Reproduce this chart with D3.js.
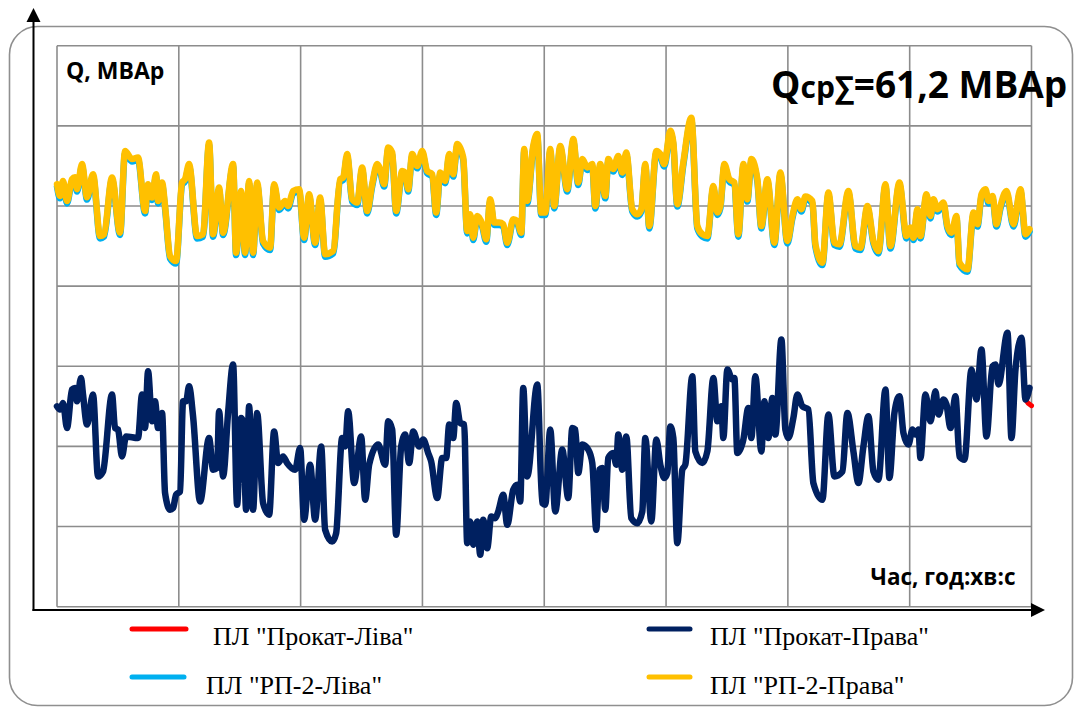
<!DOCTYPE html>
<html>
<head>
<meta charset="utf-8">
<title>Q, МВАр</title>
<script src="https://cdn.jsdelivr.net/npm/d3@7/dist/d3.min.js"></script>
<style>
  body { margin: 0; background: #fff; }
  svg { display: block; }
</style>
</head>
<body>
<svg id="chart" width="1077" height="708"></svg>
<script>
// time of each sample (relative units, 974 = end of record)
var tRP = [
  0, 3, 6, 10, 15, 18, 20, 25, 30, 36,
  43, 47, 55, 63, 68, 75, 81, 88, 91, 95,
  99, 101, 105, 108, 113, 119, 125, 128, 132, 140,
  146, 152, 156, 162, 166, 176, 179, 184, 188, 192,
  196, 200, 206, 213, 217, 222, 228, 231, 236, 242,
  247, 252, 258, 263, 268, 276, 283, 286, 290, 295,
  300, 305, 310, 315, 320, 323, 327, 331, 335, 339,
  345, 348, 351, 355, 360, 365, 370, 375, 379, 383,
  388, 392, 396, 400, 406, 410, 413, 416, 420, 425,
  429, 433, 437, 442, 446, 450, 456, 460, 464, 467,
  470, 476, 480, 484, 488, 493, 497, 503, 510, 516,
  521, 525, 530, 535, 538, 543, 548, 551, 556, 561,
  565, 569, 575, 580, 584, 588, 592, 599, 603, 607,
  613, 616, 620, 626, 634, 640, 645, 650, 656, 660,
  663, 667, 672, 677, 681, 686, 690, 694, 700, 704,
  710, 717, 723, 730, 735, 740, 744, 748, 755, 758,
  765, 771, 777, 782, 791, 798, 803, 810, 816, 821,
  828, 833, 842, 849, 853, 856, 860, 863, 869, 873,
  876, 880, 886, 890, 894, 899, 902, 910, 916, 920,
  924, 928, 931, 935, 939, 943, 949, 956, 963, 968,
  972
];
// ПЛ "РП-2-Права", МВАр
var qRP2Prava = [
  21.09, 20.50, 21.25, 20.25, 21.34, 21.44, 20.84, 22.09, 20.44, 21.59,
  18.50, 18.59, 21.42, 18.67, 22.75, 22.34, 22.42, 19.75, 21.09, 20.42,
  21.59, 20.25, 21.17, 20.00, 17.50, 17.25, 21.17, 21.34, 22.09, 18.50,
  18.59, 23.17, 18.59, 20.92, 18.67, 22.09, 17.67, 20.75, 17.67, 21.25,
  17.67, 21.17, 18.25, 17.92, 21.09, 19.92, 20.25, 20.00, 20.75, 20.84,
  18.42, 20.59, 18.17, 20.42, 17.59, 17.75, 21.34, 21.42, 22.59, 20.34,
  20.17, 21.92, 19.75, 21.09, 22.09, 21.84, 21.09, 22.92, 22.67, 19.75,
  21.75, 21.67, 20.84, 22.59, 22.00, 22.75, 21.75, 21.59, 19.67, 21.67,
  21.25, 22.59, 21.59, 23.09, 22.42, 18.75, 19.59, 18.42, 19.50, 19.09,
  18.34, 20.34, 19.17, 19.17, 19.09, 18.17, 19.34, 19.25, 18.67, 22.84,
  20.25, 23.00, 23.59, 19.67, 19.67, 22.84, 20.00, 23.00, 20.84, 23.34,
  21.17, 22.34, 21.92, 22.09, 20.00, 22.09, 20.50, 22.34, 21.84, 22.50,
  21.67, 22.67, 19.84, 19.59, 19.84, 22.09, 19.00, 22.75, 22.59, 22.09,
  23.75, 23.17, 20.09, 22.17, 24.41, 19.00, 18.59, 18.50, 21.00, 19.67,
  20.00, 22.09, 21.34, 21.17, 18.59, 22.09, 20.34, 22.34, 21.34, 19.00,
  21.34, 18.17, 21.67, 18.25, 19.50, 20.34, 19.84, 20.47, 20.25, 18.09,
  17.17, 20.67, 18.17, 18.09, 20.75, 18.00, 17.92, 20.00, 18.25, 17.75,
  21.09, 18.00, 21.17, 18.50, 18.92, 18.42, 19.84, 18.50, 20.59, 19.50,
  20.34, 19.84, 20.17, 19.00, 18.67, 19.50, 17.17, 16.84, 19.67, 19.09,
  20.59, 20.84, 20.25, 20.50, 19.09, 20.00, 20.75, 19.09, 20.84, 18.59,
  18.84
];
// ПЛ "РП-2-Ліва", МВАр
var qRP2Liva = [
  20.97, 20.38, 21.13, 20.13, 21.22, 21.32, 20.72, 21.97, 20.32, 21.47,
  18.38, 18.47, 21.30, 18.55, 22.63, 22.22, 22.30, 19.63, 20.97, 20.30,
  21.47, 20.13, 21.05, 19.88, 17.38, 17.13, 21.05, 21.22, 21.97, 18.38,
  18.47, 23.05, 18.47, 20.80, 18.55, 21.97, 17.55, 20.63, 17.55, 21.13,
  17.55, 21.05, 18.13, 17.80, 20.97, 19.80, 20.13, 19.88, 20.63, 20.72,
  18.30, 20.47, 18.05, 20.30, 17.47, 17.63, 21.22, 21.30, 22.47, 20.22,
  20.05, 21.80, 19.63, 20.97, 21.97, 21.72, 20.97, 22.80, 22.55, 19.63,
  21.63, 21.55, 20.72, 22.47, 21.88, 22.63, 21.63, 21.47, 19.55, 21.55,
  21.13, 22.47, 21.47, 22.97, 22.30, 18.63, 19.47, 18.30, 19.38, 18.97,
  18.22, 20.22, 19.05, 19.05, 18.97, 18.05, 19.22, 19.13, 18.55, 22.72,
  20.13, 22.88, 23.47, 19.55, 19.55, 22.72, 19.88, 22.88, 20.72, 23.22,
  21.05, 22.22, 21.80, 21.97, 19.88, 21.97, 20.38, 22.22, 21.72, 22.38,
  21.55, 22.55, 19.72, 19.47, 19.72, 21.97, 18.88, 22.63, 22.47, 21.97,
  23.63, 23.05, 19.97, 22.05, 24.29, 18.88, 18.47, 18.38, 20.88, 19.55,
  19.88, 21.97, 21.22, 21.05, 18.47, 21.97, 20.22, 22.22, 21.22, 18.88,
  21.22, 18.05, 21.55, 18.13, 19.38, 20.22, 19.72, 20.35, 20.13, 17.97,
  17.05, 20.55, 18.05, 17.97, 20.63, 17.88, 17.80, 19.88, 18.13, 17.63,
  20.97, 17.88, 21.05, 18.38, 18.80, 18.30, 19.72, 18.38, 20.47, 19.38,
  20.22, 19.72, 20.05, 18.88, 18.55, 19.38, 17.05, 16.72, 19.55, 18.97,
  20.47, 20.72, 20.13, 20.38, 18.97, 19.88, 20.63, 18.97, 20.72, 18.47,
  18.72
];

var tProkat = [
  0, 3, 6, 10, 15, 18, 20, 24, 26, 30,
  36, 41, 46, 55, 58, 61, 65, 69, 81, 85,
  88, 91, 95, 98, 101, 105, 108, 113, 116, 119,
  123, 126, 129, 132, 136, 143, 152, 156, 160, 162,
  166, 171, 176, 180, 184, 186, 189, 192, 196, 200,
  206, 212, 217, 221, 226, 230, 238, 243, 247, 253,
  258, 264, 268, 275, 279, 285, 288, 291, 297, 304,
  308, 312, 321, 328, 331, 335, 339, 344, 348, 352,
  356, 362, 366, 371, 374, 380, 385, 389, 392, 396,
  399, 403, 407, 410, 413, 416, 420, 423, 426, 430,
  434, 438, 441, 446, 450, 456, 460, 463, 466, 470,
  480, 485, 488, 493, 498, 505, 511, 515, 518, 521,
  525, 531, 535, 539, 542, 545, 548, 551, 556, 559,
  561, 565, 569, 574, 580, 585, 588, 594, 599, 603,
  607, 610, 613, 616, 620, 625, 628, 635, 638, 645,
  650, 656, 660, 664, 666, 670, 675, 677, 680, 686,
  691, 694, 698, 704, 707, 711, 715, 718, 724, 728,
  731, 736, 740, 745, 751, 756, 765, 771, 777, 785,
  790, 796, 801, 806, 811, 816, 821, 828, 832, 837,
  842, 846, 851, 855, 858, 861, 863, 868, 873, 878,
  881, 886, 889, 893, 898, 902, 907, 914, 919, 924,
  929, 935, 938, 941, 950, 954, 958, 964, 968, 972,
  974
];
// ПЛ "Прокат-Права", МВАр (no sample at the last time point)
var qProkatPrava = [
  10.00, 9.84, 10.17, 8.92, 10.84, 10.92, 10.25, 11.42, 10.59, 9.09,
  10.59, 6.50, 6.75, 10.59, 8.92, 8.84, 7.50, 8.50, 8.42, 10.59,
  8.92, 11.75, 9.25, 10.25, 8.92, 9.67, 5.67, 4.84, 4.92, 5.59,
  5.75, 10.25, 10.25, 11.00, 9.50, 5.25, 8.42, 6.84, 6.92, 9.75,
  6.50, 9.67, 12.09, 5.09, 9.42, 9.25, 4.84, 10.00, 4.84, 9.67,
  5.17, 4.59, 8.75, 7.17, 7.50, 7.17, 6.84, 7.92, 4.34, 7.09,
  4.34, 8.00, 3.84, 3.25, 3.67, 8.42, 8.00, 9.75, 6.17, 8.50,
  5.34, 7.09, 8.09, 7.09, 9.25, 8.84, 3.59, 8.00, 8.59, 7.17,
  8.75, 8.00, 8.34, 7.67, 7.25, 5.42, 7.42, 7.42, 9.09, 8.42,
  10.17, 9.17, 9.09, 3.17, 4.25, 3.09, 4.25, 2.59, 4.34, 2.92,
  4.50, 4.42, 4.75, 5.59, 4.09, 5.84, 6.09, 5.25, 10.92, 6.50,
  11.09, 5.17, 5.09, 8.84, 4.75, 7.84, 5.42, 8.92, 8.84, 6.67,
  8.09, 7.84, 7.17, 3.84, 6.84, 6.92, 4.84, 7.42, 7.67, 7.09,
  8.59, 6.84, 8.50, 4.42, 4.17, 4.75, 8.42, 4.25, 8.34, 7.09,
  6.42, 6.67, 9.00, 8.42, 3.17, 6.84, 7.09, 11.50, 7.75, 7.17,
  7.75, 11.42, 9.25, 10.00, 8.42, 11.84, 11.34, 11.42, 7.67, 8.34,
  9.92, 8.42, 11.50, 7.75, 10.25, 8.42, 10.42, 8.59, 13.34, 8.84,
  8.42, 9.42, 10.59, 10.00, 9.84, 6.17, 5.34, 9.59, 6.50, 6.75,
  9.67, 7.75, 6.17, 8.00, 9.50, 6.75, 6.34, 10.84, 6.42, 9.67,
  10.50, 8.67, 8.09, 8.84, 8.59, 8.84, 7.42, 10.59, 9.25, 10.75,
  9.59, 10.34, 10.09, 8.92, 10.50, 7.50, 7.34, 11.84, 10.34, 12.84,
  8.50, 12.00, 12.09, 11.09, 13.67, 8.42, 11.84, 13.42, 10.34, 10.92
];
// ПЛ "Прокат-Ліва", МВАр (sample at 972 missing)
var qProkatLiva = [
  10.00, 9.84, 10.17, 8.92, 10.84, 10.92, 10.25, 11.42, 10.59, 9.09,
  10.59, 6.50, 6.75, 10.59, 8.92, 8.84, 7.50, 8.50, 8.42, 10.59,
  8.92, 11.75, 9.25, 10.25, 8.92, 9.67, 5.67, 4.84, 4.92, 5.59,
  5.75, 10.25, 10.25, 11.00, 9.50, 5.25, 8.42, 6.84, 6.92, 9.75,
  6.50, 9.67, 12.09, 5.09, 9.42, 9.25, 4.84, 10.00, 4.84, 9.67,
  5.17, 4.59, 8.75, 7.17, 7.50, 7.17, 6.84, 7.92, 4.34, 7.09,
  4.34, 8.00, 3.84, 3.25, 3.67, 8.42, 8.00, 9.75, 6.17, 8.50,
  5.34, 7.09, 8.09, 7.09, 9.25, 8.84, 3.59, 8.00, 8.59, 7.17,
  8.75, 8.00, 8.34, 7.67, 7.25, 5.42, 7.42, 7.42, 9.09, 8.42,
  10.17, 9.17, 9.09, 3.17, 4.25, 3.09, 4.25, 2.59, 4.34, 2.92,
  4.50, 4.42, 4.75, 5.59, 4.09, 5.84, 6.09, 5.25, 10.92, 6.50,
  11.09, 5.17, 5.09, 8.84, 4.75, 7.84, 5.42, 8.92, 8.84, 6.67,
  8.09, 7.84, 7.17, 3.84, 6.84, 6.92, 4.84, 7.42, 7.67, 7.09,
  8.59, 6.84, 8.50, 4.42, 4.17, 4.75, 8.42, 4.25, 8.34, 7.09,
  6.42, 6.67, 9.00, 8.42, 3.17, 6.84, 7.09, 11.50, 7.75, 7.17,
  7.75, 11.42, 9.25, 10.00, 8.42, 11.84, 11.34, 11.42, 7.67, 8.34,
  9.92, 8.42, 11.50, 7.75, 10.25, 8.42, 10.42, 8.59, 13.34, 8.84,
  8.42, 9.42, 10.59, 10.00, 9.84, 6.17, 5.34, 9.59, 6.50, 6.75,
  9.67, 7.75, 6.17, 8.00, 9.50, 6.75, 6.34, 10.84, 6.42, 9.67,
  10.50, 8.67, 8.09, 8.84, 8.59, 8.84, 7.42, 10.59, 9.25, 10.75,
  9.59, 10.34, 10.09, 8.92, 10.50, 7.50, 7.34, 11.84, 10.34, 12.84,
  8.50, 12.00, 12.09, 11.09, 13.67, 8.42, 11.84, 13.42, 10.34, null,
  10.03
];

var seriesNames = ['ПЛ "Прокат-Ліва"', 'ПЛ "Прокат-Права"', 'ПЛ "РП-2-Ліва"', 'ПЛ "РП-2-Права"'];
var seriesColors = ["#ff0000", "#002060", "#00b0f0", "#ffc000"];
var yGridValues = [0, 4, 8, 12, 16, 20, 24, 28];
var xDivisions = 8;

var svg = d3.select("#chart");
var plot = { left: 57, right: 1031.5, top: 45.7, bottom: 606.7 };

var x = d3.scaleLinear().domain([0, 974]).range([plot.left, plot.right]);
var y = d3.scaleLinear().domain([0, 28]).range([plot.bottom, plot.top]);

// outer rounded frame
svg.append("rect")
    .attr("x", 9.5).attr("y", 26.5)
    .attr("width", 1063).attr("height", 679)
    .attr("rx", 28).attr("ry", 28)
    .attr("fill", "none")
    .attr("stroke", "#8f8f8f")
    .attr("stroke-width", 1.6);

// grid
var grid = svg.append("g").attr("stroke", "#8c8c8c").attr("stroke-width", 1.6);
grid.selectAll(".h").data(yGridValues).enter().append("line")
    .attr("x1", plot.left).attr("x2", plot.right)
    .attr("y1", function(d){ return y(d); })
    .attr("y2", function(d){ return y(d); });
grid.selectAll(".v").data(d3.range(xDivisions + 1)).enter().append("line")
    .attr("x1", function(i){ return x(i * 974 / xDivisions); })
    .attr("x2", function(i){ return x(i * 974 / xDivisions); })
    .attr("y1", plot.top).attr("y2", plot.bottom);

// axes with arrows
svg.append("line").attr("x1", 33.5).attr("y1", 611).attr("x2", 33.5).attr("y2", 20)
    .attr("stroke", "#000").attr("stroke-width", 2);
svg.append("path").attr("d", "M33.5,8 L26.5,22 L40.5,22 Z").attr("fill", "#000");
svg.append("line").attr("x1", 32.5).attr("y1", 610).attr("x2", 1033).attr("y2", 610)
    .attr("stroke", "#000").attr("stroke-width", 2);
svg.append("path").attr("d", "M1045,610 L1031,603 L1031,617 Z").attr("fill", "#000");

// series lines (missing samples are skipped, the line joins the neighbours)
var line = d3.line()
    .x(function(d){ return x(d[0]); })
    .y(function(d){ return y(d[1]); })
    .curve(d3.curveMonotoneX);

function pairs(t, q) {
  return d3.zip(t, q).filter(function(d){ return d[1] != null; });
}

var lines = [
  pairs(tProkat, qProkatLiva),
  pairs(tProkat, qProkatPrava),
  pairs(tRP, qRP2Liva),
  pairs(tRP, qRP2Prava)
];
var widths = [5, 6.5, 6.5, 6.5];

svg.append("g").selectAll("path").data(lines).enter().append("path")
    .attr("d", line)
    .attr("fill", "none")
    .attr("stroke", function(d, i){ return seriesColors[i]; })
    .attr("stroke-width", function(d, i){ return widths[i]; })
    .attr("stroke-linejoin", "round")
    .attr("stroke-linecap", "round");

// texts
svg.append("text").attr("x", 66).attr("y", 78.5)
    .attr("font-family", "'Open Sans', sans-serif").attr("font-weight", "bold")
    .attr("font-size", 23).attr("fill", "#000")
    .text("Q, МВАр");

var qt = svg.append("text").attr("x", 771).attr("y", 98)
    .attr("font-family", "'Open Sans', sans-serif").attr("font-weight", "bold")
    .attr("font-size", 37).attr("fill", "#000");
qt.append("tspan").text("Q");
qt.append("tspan").attr("font-size", 30).text("ср∑");
qt.append("tspan").text("=61,2 МВАр");

svg.append("text").attr("x", 870.5).attr("y", 584.5)
    .attr("font-family", "'Open Sans', sans-serif").attr("font-weight", "bold")
    .attr("font-size", 22.5).attr("fill", "#000")
    .text("Час, год:хв:с");

// legend
var legendPos = [
  { x1: 132, x2: 186, y: 629, tx: 213, ty: 645 },
  { x1: 649, x2: 690, y: 629, tx: 710, ty: 645 },
  { x1: 132, x2: 184, y: 677, tx: 206, ty: 694 },
  { x1: 649, x2: 690, y: 677, tx: 710, ty: 694 }
];
var legend = svg.append("g").selectAll("g").data(seriesNames).enter().append("g");
legend.append("line")
    .attr("x1", function(d, i){ return legendPos[i].x1; })
    .attr("x2", function(d, i){ return legendPos[i].x2; })
    .attr("y1", function(d, i){ return legendPos[i].y; })
    .attr("y2", function(d, i){ return legendPos[i].y; })
    .attr("stroke", function(d, i){ return seriesColors[i]; })
    .attr("stroke-width", 5)
    .attr("stroke-linecap", "round");
legend.append("text")
    .attr("x", function(d, i){ return legendPos[i].tx; })
    .attr("y", function(d, i){ return legendPos[i].ty; })
    .attr("font-family", "'Liberation Serif', 'Times New Roman', serif")
    .attr("font-size", 26).attr("fill", "#000")
    .text(function(d){ return d; });
</script>
</body>
</html>
